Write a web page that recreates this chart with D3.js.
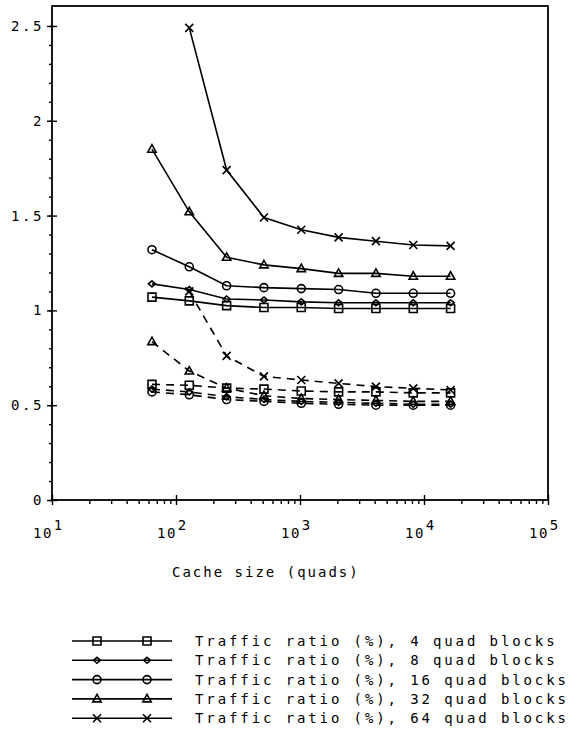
<!DOCTYPE html>
<html>
<head>
<meta charset="utf-8">
<script src="https://cdn.jsdelivr.net/npm/d3@7"></script>
<style>
  body { margin: 0; background: #fff; }
  text { font-family: "DejaVu Sans Mono", monospace; fill: #000; }
</style>
</head>
<body>
<svg></svg>
<script>
var width = 586;
var height = 731;

// cache sizes (quads)
var cacheSizes = [64, 128, 256, 512, 1024, 2048, 4096, 8192, 16384];

// solid lines: traffic ratio
var traffic4  = [1.07, 1.05, 1.025, 1.015, 1.015, 1.01, 1.01, 1.01, 1.01];
var traffic8  = [1.14, 1.11, 1.06, 1.055, 1.045, 1.04, 1.04, 1.04, 1.04];
var traffic16 = [1.32, 1.23, 1.13, 1.12, 1.115, 1.11, 1.09, 1.09, 1.09];
var traffic32 = [1.85, 1.52, 1.28, 1.24, 1.22, 1.195, 1.195, 1.18, 1.18];
var traffic64 = [null, 2.49, 1.74, 1.49, 1.425, 1.385, 1.365, 1.345, 1.34];

// dashed lines (same block sizes)
var dashed4  = [0.61, 0.605, 0.59, 0.585, 0.575, 0.57, 0.57, 0.565, 0.565];
var dashed8  = [0.585, 0.57, 0.545, 0.53, 0.52, 0.515, 0.51, 0.505, 0.505];
var dashed16 = [0.57, 0.555, 0.53, 0.52, 0.51, 0.505, 0.50, 0.50, 0.50];
var dashed32 = [0.835, 0.68, 0.59, 0.55, 0.535, 0.53, 0.525, 0.52, 0.52];
var dashed64 = [null, 1.10, 0.76, 0.652, 0.633, 0.615, 0.598, 0.589, 0.58];

var yTicks = [0, 0.5, 1, 1.5, 2, 2.5];
var yMinor = d3.range(0, 26).map(d => d / 10);
var xTicks = [10, 100, 1000, 10000, 100000];
var xExponents = ["1", "2", "3", "4", "5"];

var legendLabels = [
  "Traffic ratio (%), 4 quad blocks",
  "Traffic ratio (%), 8 quad blocks",
  "Traffic ratio (%), 16 quad blocks",
  "Traffic ratio (%), 32 quad blocks",
  "Traffic ratio (%), 64 quad blocks"
];
var markers = ["square", "diamond", "circle", "triangle", "cross"];

var series = [
  { marker: "square",   values: traffic4,  dashed: false },
  { marker: "diamond",  values: traffic8,  dashed: false },
  { marker: "circle",   values: traffic16, dashed: false },
  { marker: "triangle", values: traffic32, dashed: false },
  { marker: "cross",    values: traffic64, dashed: false },
  { marker: "square",   values: dashed4,   dashed: true },
  { marker: "diamond",  values: dashed8,   dashed: true },
  { marker: "circle",   values: dashed16,  dashed: true },
  { marker: "triangle", values: dashed32,  dashed: true },
  { marker: "cross",    values: dashed64,  dashed: true }
];

var svg = d3.select("svg")
              .attr("width", width)
              .attr("height", height);

var x = d3.scaleLog().domain([10, 1e5]).range([52, 548]);
var y = d3.scaleLinear().domain([0, 2.6]).range([500, 7]);

// marker path shapes, centred on 0,0
function markerPath(type) {
  switch (type) {
    case "square":   return "M-4,-4H4V4H-4Z";
    case "diamond":  return "M0,-3L3.5,0L0,3L-3.5,0Z";
    case "circle":   return "M4,0A4,4 0 1,1 -4,0A4,4 0 1,1 4,0Z";
    case "triangle": return "M0,-4.5L4.2,3L-4.2,3Z";
    case "cross":    return "M-4,-4L4,4M-4,4L4,-4";
  }
}

// frame
svg.append("rect")
    .attr("x", 52).attr("y", 6)
    .attr("width", 496).attr("height", 494)
    .attr("fill", "none")
    .attr("stroke", "#000")
    .attr("stroke-width", 1.8);

// y axis minor + major
svg.append("g")
    .attr("transform", "translate(52,0)")
    .call(d3.axisLeft(y).tickValues(yMinor).tickSize(3).tickFormat(""))
    .call(g => g.select(".domain").remove())
    .call(g => g.selectAll("line").attr("stroke-width", 1.4));

svg.append("g")
    .attr("transform", "translate(52,0)")
    .call(d3.axisLeft(y).tickValues(yTicks).tickSize(5).tickPadding(6).tickFormat(d => String(d)))
    .call(g => g.select(".domain").remove())
    .call(g => g.selectAll("line").attr("x1", 5).attr("stroke-width", 1.4))
    .call(g => g.selectAll("text")
                .attr("font-family", "DejaVu Sans Mono")
                .attr("font-size", 14)
                .attr("letter-spacing", 2.6)
                .attr("dx", 3));

// x axis minor + major
var xMinor = [];
xTicks.slice(0, -1).forEach(function(t) {
  for (var k = 2; k <= 9; k++) xMinor.push(t * k);
});

svg.append("g")
    .attr("transform", "translate(0,500)")
    .call(d3.axisBottom(x).tickValues(xMinor).tickSize(4).tickFormat(""))
    .call(g => g.select(".domain").remove())
    .call(g => g.selectAll("line").attr("stroke-width", 1.4));

svg.append("g")
    .attr("transform", "translate(0,500)")
    .call(d3.axisBottom(x).tickValues(xTicks).tickSize(5).tickFormat(""))
    .call(g => g.select(".domain").remove())
    .call(g => g.selectAll("line").attr("y1", -5).attr("stroke-width", 1.4));

var xLabels = svg.append("g")
    .selectAll("text")
    .data(xTicks)
    .enter()
    .append("text")
      .attr("x", d => x(d) - 19)
      .attr("y", 538)
      .attr("font-size", 14)
      .attr("letter-spacing", 1.5);

xLabels.append("tspan").text("10");
xLabels.append("tspan")
    .attr("dy", -8)
    .attr("dx", 1)
    .text((d, i) => xExponents[i]);

// axis title
svg.append("text")
    .attr("x", 172)
    .attr("y", 577)
    .attr("font-size", 14)
    .attr("letter-spacing", 2)
    .text("Cache size (quads)");

// data lines
var line = d3.line()
    .defined(d => d.v != null)
    .x(d => x(d.x))
    .y(d => y(d.v));

var plot = svg.append("g");

series.forEach(function(s) {
  var pts = s.values.map((v, i) => ({ x: cacheSizes[i], v: v }));
  plot.append("path")
      .datum(pts)
      .attr("d", line)
      .attr("fill", "none")
      .attr("stroke", "#000")
      .attr("stroke-width", 1.6)
      .attr("stroke-dasharray", s.dashed ? "8,6" : null);

  plot.selectAll(null)
      .data(pts.filter(d => d.v != null))
      .enter()
      .append("path")
        .attr("transform", d => "translate(" + x(d.x) + "," + y(d.v) + ")")
        .attr("d", markerPath(s.marker))
        .attr("fill", "none")
        .attr("stroke", "#000")
        .attr("stroke-width", 1.6);
});

// legend
var legend = svg.append("g")
    .selectAll("g")
    .data(legendLabels)
    .enter()
    .append("g")
      .attr("transform", (d, i) => "translate(0," + (641 + i * 19.3) + ")");

legend.append("line")
    .attr("x1", 72).attr("x2", 172)
    .attr("stroke", "#000")
    .attr("stroke-width", 1.6);

legend.each(function(d, i) {
  var g = d3.select(this);
  [97, 147].forEach(function(mx) {
    g.append("path")
        .attr("transform", "translate(" + mx + ",0)")
        .attr("d", markerPath(markers[i]))
        .attr("fill", "none")
        .attr("stroke", "#000")
        .attr("stroke-width", 1.6);
  });
});

legend.append("text")
    .attr("x", 195)
    .attr("y", 5)
    .attr("font-size", 14)
    .attr("letter-spacing", 2.9)
    .text(d => d);
</script>
</body>
</html>
